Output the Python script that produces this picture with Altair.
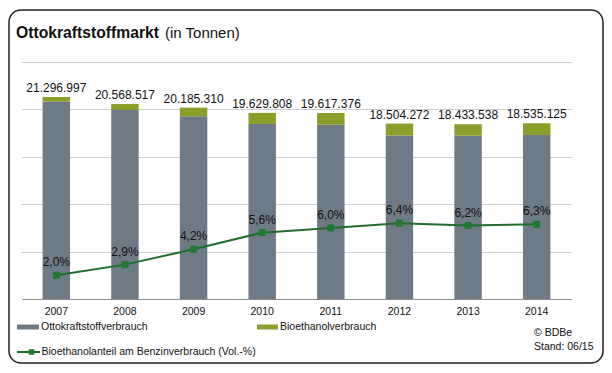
import altair as alt
import pandas as pd

years = ["2007", "2008", "2009", "2010", "2011", "2012", "2013", "2014"]
totals = [21296997, 20568517, 20185310, 19629808, 19617376, 18504272, 18433538, 18535125]
bioethanol = [459000, 625000, 903000, 1165000, 1233000, 1249000, 1208000, 1229000]
share_pct = [2.0, 2.9, 4.2, 5.6, 6.0, 6.4, 6.2, 6.3]

series_names = ["Ottokraftstoffverbrauch", "Bioethanolverbrauch"]
line_name = "Bioethanolanteil am Benzinverbrauch (Vol.-%)"

GRAY = "#6e7a85"
GREEN = "#8a9e2a"
LINE = "#1f6e2a"
MARK = "#1e7a30"
FONT = "Liberation Sans"

rows = []
for y, t, b in zip(years, totals, bioethanol):
    rows.append({"year": y, "series": series_names[0], "value": t - b, "ord": 0})
    rows.append({"year": y, "series": series_names[1], "value": b, "ord": 1})
bars_df = pd.DataFrame(rows)

tot_df = pd.DataFrame({
    "year": years,
    "total": totals,
    "label": [f"{v:,}".replace(",", ".") for v in totals],
})
pct_df = pd.DataFrame({
    "year": years,
    "pct": share_pct,
    "label": [f"{v:.1f}".replace(".", ",") + "%" for v in share_pct],
})

x_enc = alt.X(
    "year:N",
    sort=years,
    scale=alt.Scale(paddingInner=0.6, paddingOuter=0.3),
    axis=alt.Axis(
        title=None, labelAngle=0, ticks=False, labelPadding=7,
        labelFontSize=10.5, labelColor="#111111", labelFont=FONT,
        domainColor="#8c8c8c", domainWidth=1.2,
    ),
)
y_scale = alt.Scale(domain=[0, 25000000], nice=False)
y_enc_axis = alt.Axis(
    title=None, labels=False, ticks=False, domain=False,
    values=[0, 5000000, 10000000, 15000000, 20000000, 25000000],
    grid=True, gridDash=[1, 1], gridColor="#9a9a9a", gridWidth=1,
)

bars = alt.Chart(bars_df).mark_bar().encode(
    x=x_enc,
    y=alt.Y("value:Q", stack="zero", scale=y_scale, axis=y_enc_axis),
    color=alt.Color("series:N", scale=alt.Scale(domain=series_names, range=[GRAY, GREEN]), legend=None),
    order=alt.Order("ord:Q"),
)
tot_text = alt.Chart(tot_df).mark_text(
    baseline="alphabetic", dy=-5, fontSize=12, font=FONT, color="#111111"
).encode(
    x=x_enc,
    y=alt.Y("total:Q", scale=y_scale, axis=y_enc_axis),
    text="label:N",
)
bar_layer = alt.layer(bars, tot_text)

p_scale = alt.Scale(domain=[0, 20], nice=False)
line = alt.Chart(pct_df).mark_line(color=LINE, strokeWidth=2).encode(
    x=x_enc, y=alt.Y("pct:Q", scale=p_scale, axis=None)
)
pts = alt.Chart(pct_df).mark_point(shape="square", filled=True, size=49, color=MARK, opacity=1).encode(
    x=x_enc, y=alt.Y("pct:Q", scale=p_scale, axis=None)
)
pct_text = alt.Chart(pct_df).mark_text(
    baseline="alphabetic", dy=-9, fontSize=12, font=FONT, color="#111111"
).encode(
    x=x_enc, y=alt.Y("pct:Q", scale=p_scale, axis=None), text="label:N"
)
line_layer = alt.layer(line, pts, pct_text)

one = pd.DataFrame({"k": [0]})

frame = alt.Chart(one).mark_rect(
    filled=False, stroke="#222222", strokeWidth=1.5, cornerRadius=12
).encode(x=alt.value(-13), x2=alt.value(581), y=alt.value(-52), y2=alt.value(301))

title1 = alt.Chart(one).mark_text(
    text="Ottokraftstoffmarkt", align="left", baseline="alphabetic",
    fontSize=15.7, fontWeight="bold", font=FONT, color="#111111"
).encode(x=alt.value(-6), y=alt.value(-24))
title2 = alt.Chart(one).mark_text(
    text="(in Tonnen)", align="left", baseline="alphabetic",
    fontSize=15, font=FONT, color="#111111"
).encode(x=alt.value(143), y=alt.value(-24))

sw1 = alt.Chart(one).mark_rect(color=GRAY).encode(
    x=alt.value(-5), x2=alt.value(17), y=alt.value(262.5), y2=alt.value(267.5))
lt1 = alt.Chart(one).mark_text(
    text=series_names[0], align="left", baseline="middle", fontSize=10.5, font=FONT, color="#111111"
).encode(x=alt.value(19), y=alt.value(265))
sw2 = alt.Chart(one).mark_rect(color=GREEN).encode(
    x=alt.value(235), x2=alt.value(256), y=alt.value(262.5), y2=alt.value(267.5))
lt2 = alt.Chart(one).mark_text(
    text=series_names[1], align="left", baseline="middle", fontSize=10.5, font=FONT, color="#111111"
).encode(x=alt.value(258), y=alt.value(265))

lg_line = alt.Chart(one).mark_rule(color=LINE, strokeWidth=2).encode(
    x=alt.value(-5), x2=alt.value(18), y=alt.value(290))
lg_pt = alt.Chart(one).mark_point(shape="square", filled=True, size=30, color=MARK, opacity=1).encode(
    x=alt.value(9.5), y=alt.value(290))
lt3 = alt.Chart(one).mark_text(
    text=line_name, align="left", baseline="middle", fontSize=10.5, font=FONT, color="#111111"
).encode(x=alt.value(19.5), y=alt.value(290))

src1 = alt.Chart(one).mark_text(
    text="© BDBe", align="left", baseline="middle", fontSize=10.5, font=FONT, color="#111111"
).encode(x=alt.value(512), y=alt.value(271))
src2 = alt.Chart(one).mark_text(
    text="Stand: 06/15", align="left", baseline="middle", fontSize=10.5, font=FONT, color="#111111"
).encode(x=alt.value(512), y=alt.value(284.5))

chart = alt.layer(
    bar_layer, line_layer,
    frame, title1, title2, sw1, lt1, sw2, lt2, lg_line, lg_pt, lt3, src1, src2,
).resolve_scale(y="independent").properties(
    width=549, height=237,
    padding={"left": 14, "top": 54, "right": 33, "bottom": 66},
    autosize=alt.AutoSizeParams(type="none"),
    background="white",
).configure_view(stroke=None)

chart.save("out.html", embed_options={"renderer": "svg", "actions": False})
